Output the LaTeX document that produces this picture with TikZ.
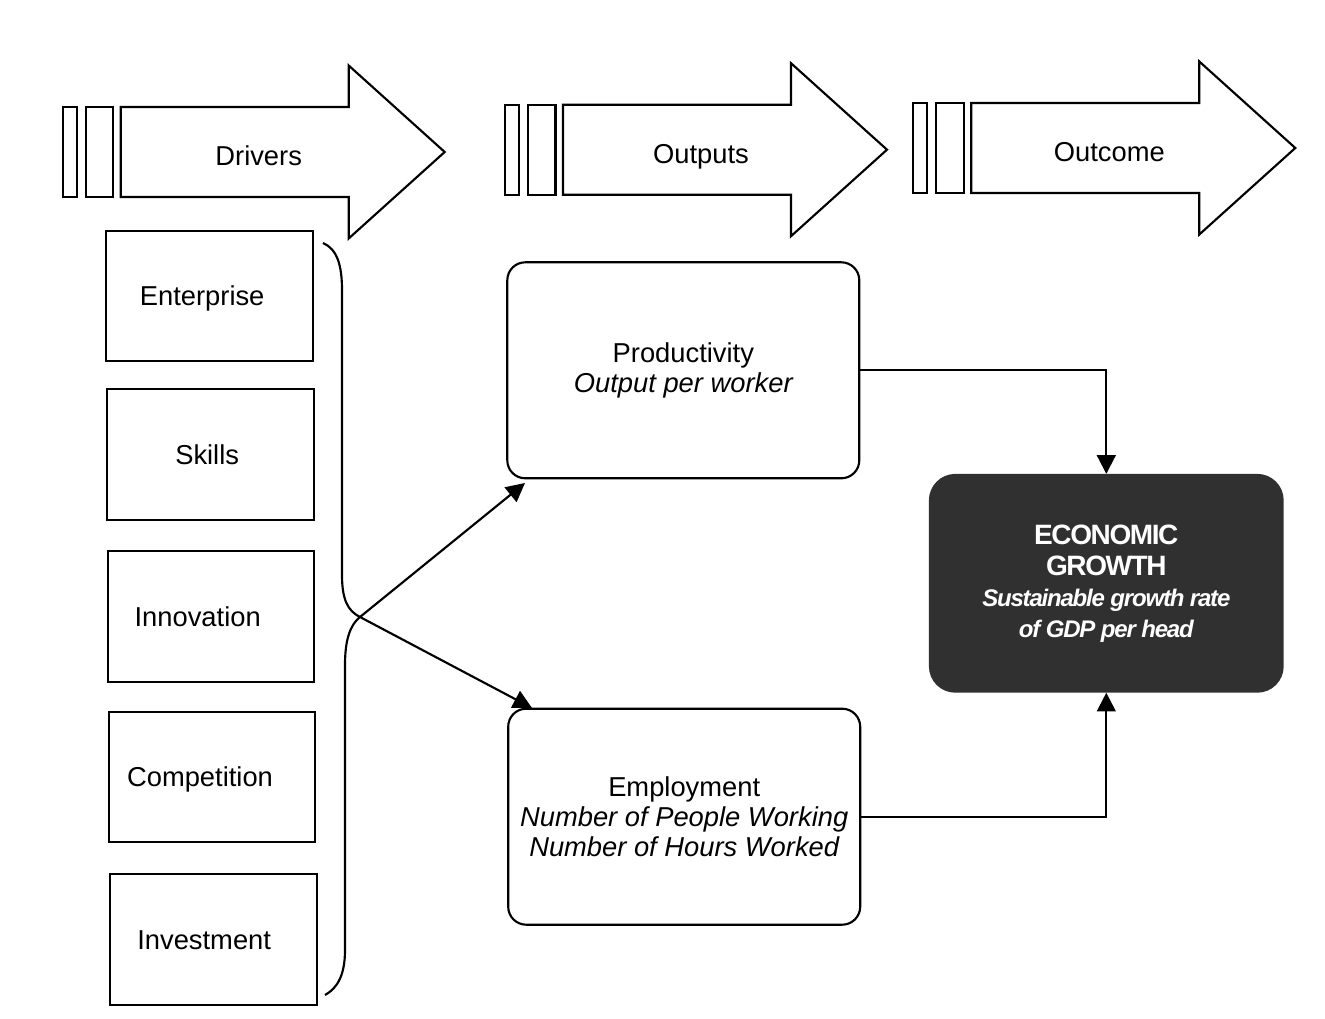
\documentclass[tikz,border=0pt]{standalone}
\usepackage{fontspec}
\setmainfont{Liberation Sans}
\newfontfamily\growthfont[LetterSpace=-5]{Liberation Sans}
\newcommand\egcaps{\growthfont\bfseries\upshape\fontsize{21}{24}\selectfont}
\newcommand\egital{\growthfont\bfseries\itshape\fontsize{18}{23}\selectfont}
\usetikzlibrary{arrows.meta}
\definecolor{growthgray}{RGB}{48,48,48}
\tikzset{
  labelfont/.style={font=\fontsize{20.5}{22.5}\selectfont},
  stagearrow/.pic={
    \draw (0,-45) rectangle (14,45);
    \draw (23,-45) rectangle (50.5,45);
    \draw (58,-45) -- (286,-45) -- (286,-86.5) -- (382,0) -- (286,86.5)
          -- (286,45) -- (58,45) -- cycle;
    \node[labelfont, anchor=base, inner sep=0pt] (-label) at (196,14) {#1};
  },
  driverbox/.style={draw, labelfont, minimum width=155pt, minimum height=98pt,
    inner sep=0pt, text height=14.5pt, text depth=0pt},
  outbox/.style={draw, labelfont, rounded corners=13.5pt, minimum width=264pt,
    minimum height=162pt, align=center, inner sep=0pt},
  growthbox/.style={fill=growthgray, draw=growthgray, rounded corners=19pt,
    minimum width=264.5pt, minimum height=162.5pt, align=center, text=white,
    inner sep=0pt, font=\fontsize{18}{23.25}\selectfont},
  link/.style={-{Triangle[length=14pt,width=14pt]}},
}
\begin{document}
\begin{tikzpicture}[x=0.75pt, y=-0.75pt, line width=1.6pt]
\useasboundingbox (0,0) rectangle (1325,1019);

% stage arrows across the top
\pic (drv) at (62.7,152) {stagearrow=Drivers};
\pic (out) at (505,149.7) {stagearrow=Outputs};
\pic (otc) at (913.3,148) {stagearrow=Outcome};

% drivers column
\node[driverbox] (ent) at (209.5,296)   {\hspace*{-11pt}Enterprise};
\node[driverbox] (skl) at (210.5,454.5) {\hspace*{-5pt}Skills};
\node[driverbox] (inn) at (211,616.5)   {\hspace*{-20pt}Innovation};
\node[driverbox] (cmp) at (212,777)     {\hspace*{-18pt}Competition};
\node[driverbox] (inv) at (213.5,939.5) {\hspace*{-14pt}Investment};

% outputs
\node[outbox] (prod) at (683.3,370.3)
  {Productivity\\\itshape Output per worker};
\node[outbox] (emp) at (684.2,816.7)
  {Employment\\\itshape Number of People Working\\\itshape Number of Hours Worked};

% outcome
\node[growthbox] (eg) at (1106.3,583.3)
  {\egcaps ECONOMIC\\\egcaps GROWTH\\\egital Sustainable growth rate\\\egital of GDP per head};

% brace gathering the drivers
\coordinate (bp) at (360,617);
\coordinate (prodin) at (525,483);
\coordinate (empin) at (532,708);
\draw (323,243) .. controls (337,249) and (342,265) .. (342,290)
      -- (342,575) .. controls (342,600) and (348,611) .. (bp);
\draw (bp) .. controls (350,625) and (345,640) .. (345,665)
      -- (345,950) .. controls (345,974) and (338,988) .. (325,995);

% connectors
\draw[link] (bp) -- (prodin);
\draw[link] (bp) -- (empin);
\draw[link] (prod.east) -| (eg.north);
\draw[link] (emp.east) -| (eg.south);
\end{tikzpicture}
\end{document}
